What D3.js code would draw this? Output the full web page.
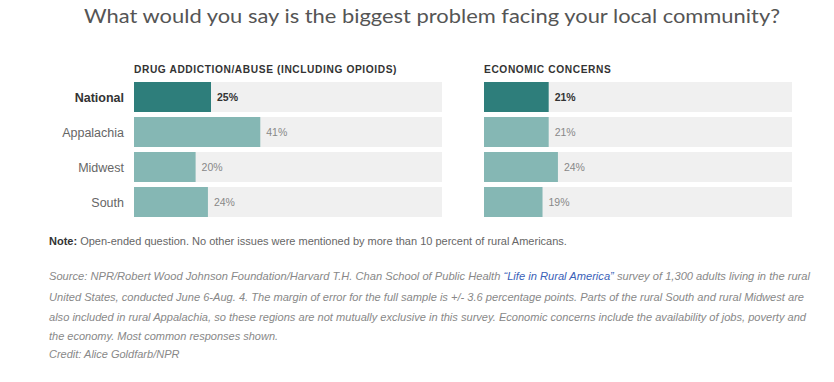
<!DOCTYPE html>
<html><head><meta charset="utf-8">
<script src="https://cdn.jsdelivr.net/npm/d3@7"></script>
<style>body{margin:0;background:#fff;}svg{display:block;}</style>
</head><body><svg id="c" width="834" height="382"></svg>
<script>
const categories = ["National","Appalachia","Midwest","South"];
const drugValues = [25,41,20,24];
const econValues = [21,21,24,19];
const panelTitles = ["DRUG ADDICTION/ABUSE (INCLUDING OPIOIDS)","ECONOMIC CONCERNS"];
const title = "What would you say is the biggest problem facing your local community?";
const sourceLines = [
 ["Source: NPR/Robert Wood Johnson Foundation/Harvard T.H. Chan School of Public Health ", "“Life in Rural America”", " survey of 1,300 adults living in the rural"],
 ["United States, conducted June 6-Aug. 4. The margin of error for the full sample is +/- 3.6 percentage points. Parts of the rural South and rural Midwest are"],
 ["also included in rural Appalachia, so these regions are not mutually exclusive in this survey. Economic concerns include the availability of jobs, poverty and"],
 ["the economy. Most common responses shown."]
];

const svg = d3.select("#c");
const font = "'Liberation Sans', Arial, sans-serif";

svg.append("text").attr("x",84).attr("y",23)
  .attr("font-family","Lato, 'Open Sans', sans-serif").attr("font-size",19.5).attr("fill","#555")
  .attr("textLength",696).attr("lengthAdjust","spacingAndGlyphs").text(title);

const y = d3.scaleBand().domain(categories).range([82,217]).paddingInner(5/35).paddingOuter(0);
const panels = [{x0:134, vals:drugValues, t:panelTitles[0]},{x0:484, vals:econValues, t:panelTitles[1]}];
const x = d3.scaleLinear().domain([0,100]).range([0,308]);

svg.append("g").selectAll("text").data(categories).join("text")
  .attr("x",124).attr("y",d=>y(d)+y.bandwidth()/2+4.5).attr("text-anchor","end")
  .attr("font-family",font).attr("font-size",12.5)
  .attr("font-weight",(d,i)=>i===0?"bold":"normal")
  .attr("fill",(d,i)=>i===0?"#333":"#666").text(d=>d);

panels.forEach(p=>{
  const g = svg.append("g").attr("transform",`translate(${p.x0},0)`);
  g.append("text").attr("x",0).attr("y",73).attr("font-family",font).attr("font-size",10.2)
    .attr("font-weight","bold").attr("letter-spacing",0.6).attr("fill","#333").text(p.t);
  g.selectAll("rect.bg").data(categories).join("rect").attr("class","bg")
    .attr("x",0).attr("y",d=>y(d)).attr("width",x(100)).attr("height",y.bandwidth()).attr("fill","#f0f0f0");
  g.selectAll("rect.bar").data(p.vals).join("rect").attr("class","bar")
    .attr("x",0).attr("y",(d,i)=>y(categories[i])).attr("width",d=>x(d)).attr("height",y.bandwidth())
    .attr("fill",(d,i)=>i===0?"#2e7e7b":"#85b7b4");
  g.selectAll("text.v").data(p.vals).join("text").attr("class","v")
    .attr("x",d=>x(d)+6).attr("y",(d,i)=>y(categories[i])+y.bandwidth()/2+4)
    .attr("font-family",font).attr("font-size",10.5)
    .attr("font-weight",(d,i)=>i===0?"bold":"normal")
    .attr("fill",(d,i)=>i===0?"#333":"#888").text(d=>d+"%");
});

const narrow = "'Liberation Sans Narrow', 'Liberation Sans', sans-serif";
const note = svg.append("text").attr("x",49).attr("y",245).attr("font-family",narrow).attr("font-size",11).attr("fill","#666");
note.append("tspan").attr("font-weight","bold").attr("fill","#333").text("Note:");
note.append("tspan").text(" Open-ended question. No other issues were mentioned by more than 10 percent of rural Americans.");

const lineY = [280,301,321,340];
const lineW = [761,755,757,null];
sourceLines.forEach((parts,i)=>{
  const t = svg.append("text").attr("x",49).attr("y",lineY[i])
    .attr("font-family",narrow).attr("font-style","italic")
    .attr("font-size",11).attr("fill","#888");
  if(lineW[i]) t.attr("textLength",lineW[i]).attr("lengthAdjust","spacingAndGlyphs");
  parts.forEach((s,j)=>t.append("tspan").attr("fill", j===1?"#3a5fb8":"#888").text(s));
});
svg.append("text").attr("x",49).attr("y",358).attr("font-family",narrow)
  .attr("font-style","italic").attr("font-size",11).attr("fill","#888").text("Credit: Alice Goldfarb/NPR");
</script></body></html>
